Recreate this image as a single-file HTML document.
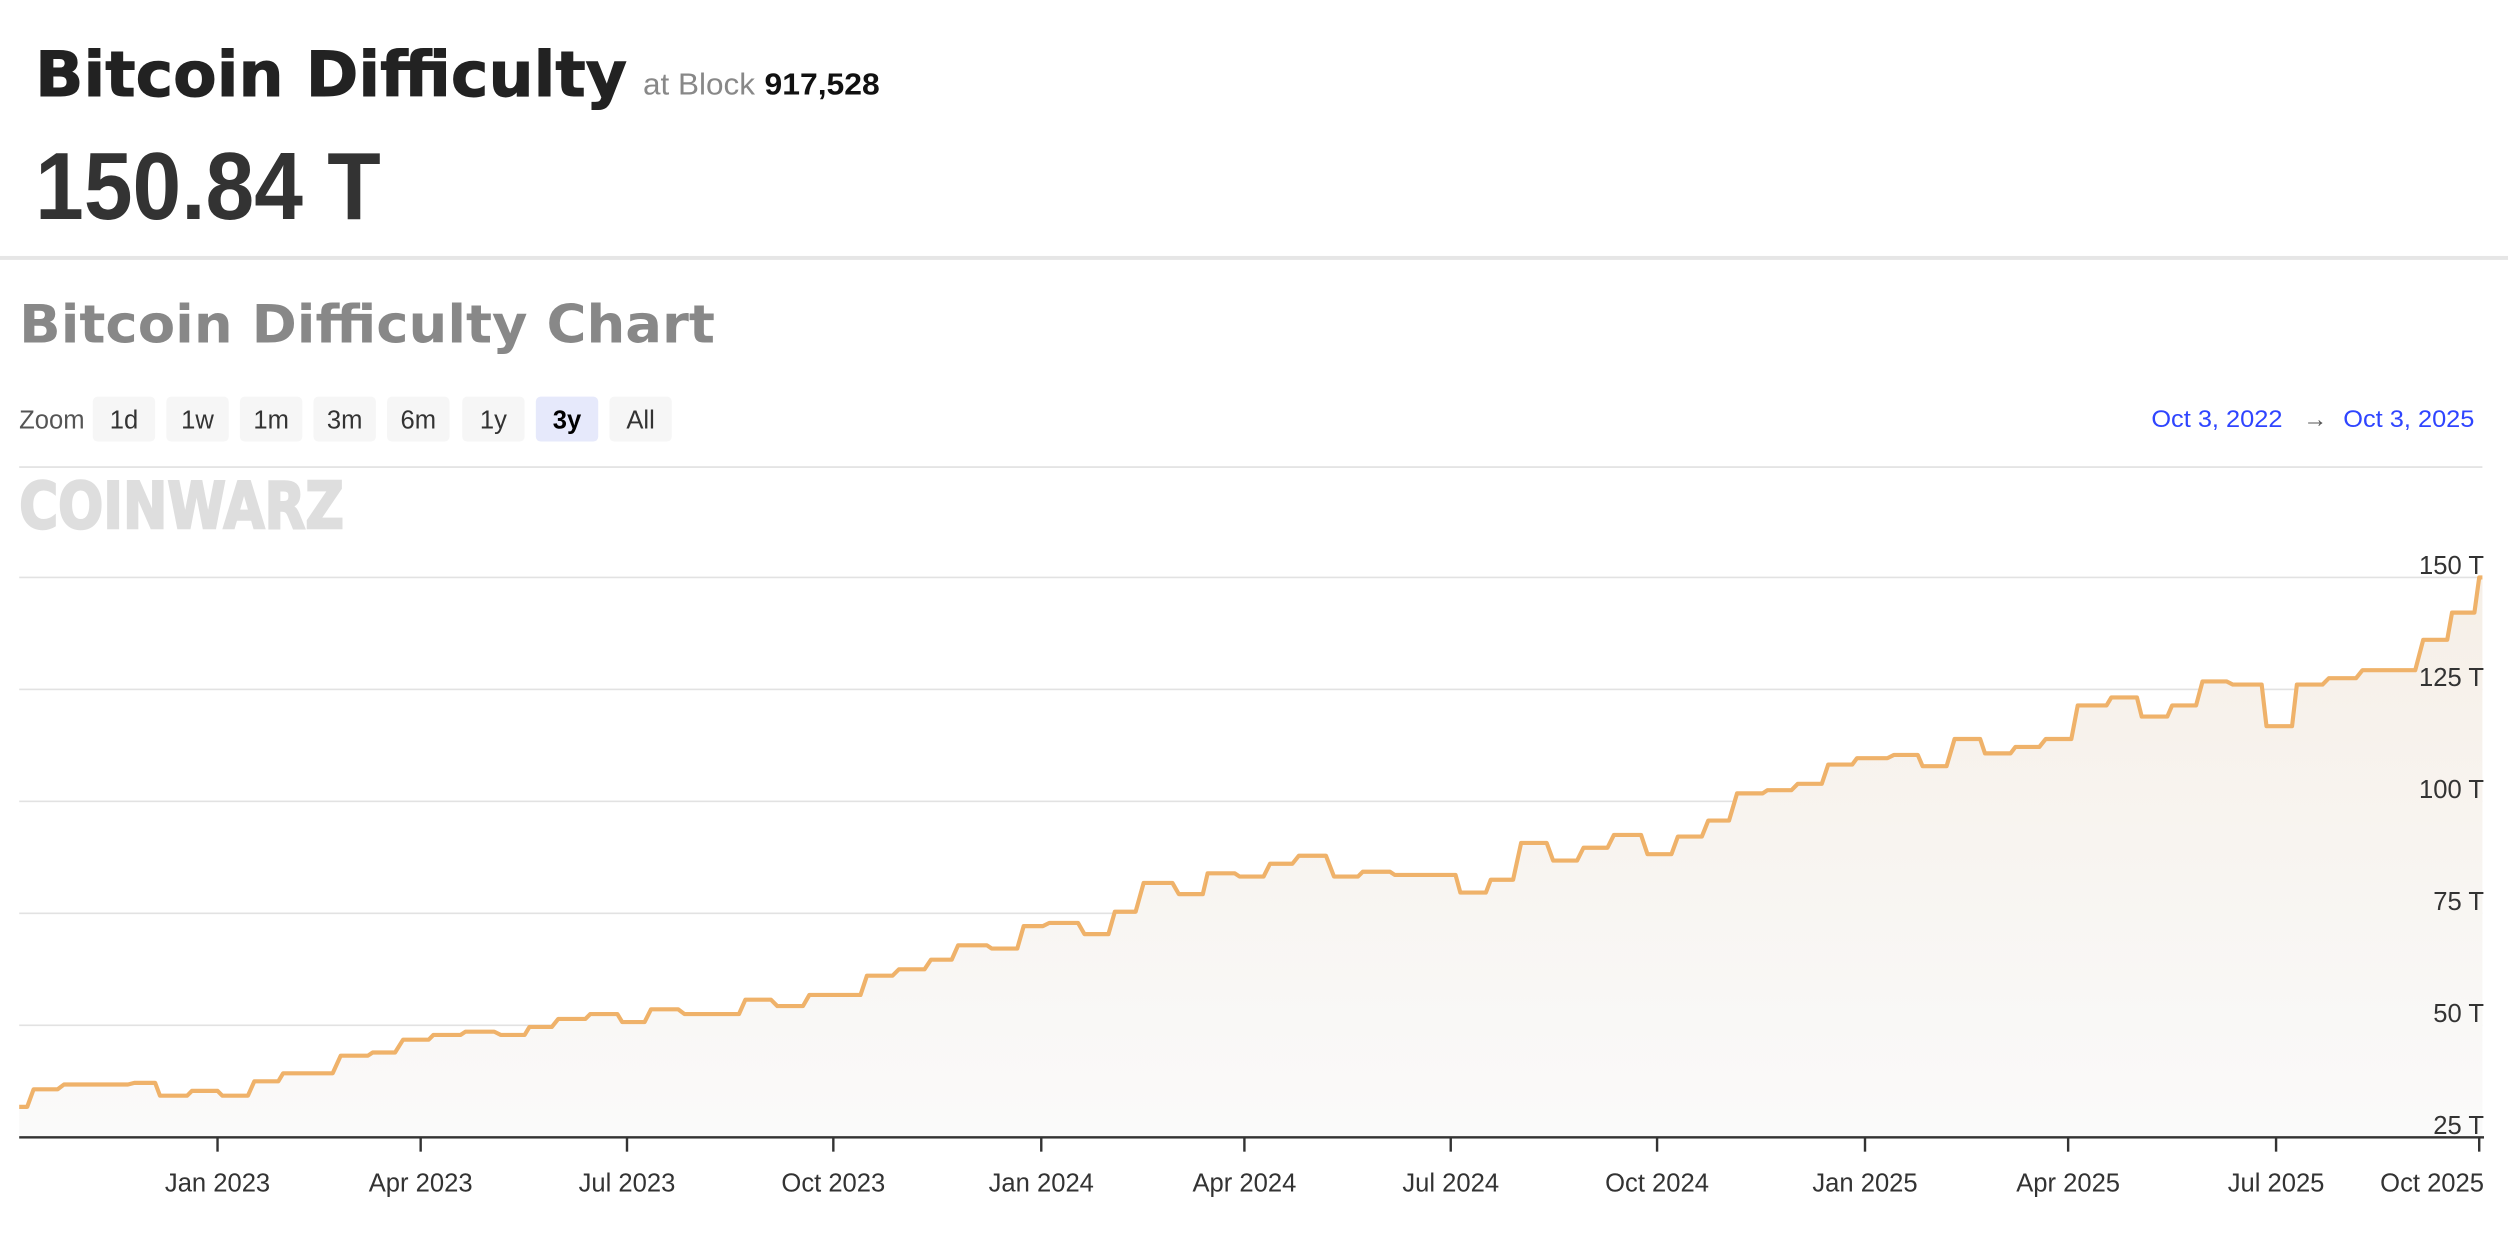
<!DOCTYPE html>
<html><head><meta charset="utf-8"><style>html,body{margin:0;padding:0;background:#fff;overflow:hidden}svg{display:block}</style></head>
<body>
<svg width="2508" height="1239" viewBox="0 0 1568 774.6" preserveAspectRatio="none" xmlns="http://www.w3.org/2000/svg">
<defs><linearGradient id="g" x1="0" y1="0" x2="0" y2="1"><stop offset="0" stop-color="#f6efe7"/><stop offset="1" stop-color="#fafafa"/></linearGradient></defs>
<rect width="1568" height="775" fill="#fff"/>
<text x="22" y="60" font-family="DejaVu Sans, sans-serif" font-weight="bold" font-size="39" fill="#222" stroke="#222" stroke-width="0.6" textLength="370" lengthAdjust="spacingAndGlyphs">Bitcoin Difficulty</text>
<text x="402" y="59" font-family="Liberation Sans, sans-serif" font-size="19" fill="#888" textLength="70" lengthAdjust="spacingAndGlyphs">at Block</text>
<text x="478" y="59" font-family="Liberation Sans, sans-serif" font-weight="bold" font-size="19" fill="#111" textLength="72" lengthAdjust="spacingAndGlyphs">917,528</text>
<text x="22" y="137" font-family="Liberation Sans, sans-serif" font-weight="bold" font-size="60" fill="#333" textLength="216" lengthAdjust="spacingAndGlyphs">150.84 T</text>
<rect x="0" y="160" width="1568" height="2.5" fill="#e6e6e6"/>
<text x="12" y="214" font-family="DejaVu Sans, sans-serif" font-weight="bold" font-size="33" fill="#888" textLength="435" lengthAdjust="spacingAndGlyphs">Bitcoin Difficulty Chart</text>
<text x="12" y="268" font-family="Liberation Sans, sans-serif" font-size="16" fill="#555">Zoom</text>
<g font-family="Liberation Sans, sans-serif" font-size="16" fill="#333" text-anchor="middle">
<rect x="58" y="248" width="39" height="28" rx="3" fill="#f6f6f6"/><text x="77.5" y="268">1d</text>
<rect x="104" y="248" width="39" height="28" rx="3" fill="#f6f6f6"/><text x="123.5" y="268">1w</text>
<rect x="150" y="248" width="39" height="28" rx="3" fill="#f6f6f6"/><text x="169.5" y="268">1m</text>
<rect x="196" y="248" width="39" height="28" rx="3" fill="#f6f6f6"/><text x="215.5" y="268">3m</text>
<rect x="242" y="248" width="39" height="28" rx="3" fill="#f6f6f6"/><text x="261.5" y="268">6m</text>
<rect x="289" y="248" width="39" height="28" rx="3" fill="#f6f6f6"/><text x="308.5" y="268">1y</text>
<rect x="335" y="248" width="39" height="28" rx="3" fill="#e6e9fb"/><text x="354.5" y="268" font-weight="bold" fill="#000">3y</text>
<rect x="381" y="248" width="39" height="28" rx="3" fill="#f6f6f6"/><text x="400.5" y="268">All</text>
</g>
<g font-family="Liberation Sans, sans-serif" font-size="15" fill="#2f45ff">
<text x="1345" y="267" textLength="82" lengthAdjust="spacingAndGlyphs">Oct 3, 2022</text>
<text x="1440" y="267" fill="#555">→</text>
<text x="1465" y="267" textLength="82" lengthAdjust="spacingAndGlyphs">Oct 3, 2025</text>
</g>
<rect x="12" y="291.5" width="1540" height="1" fill="#e0e0e0"/>
<text x="12" y="330" font-family="DejaVu Sans, sans-serif" font-weight="bold" font-size="40" fill="#dedede" stroke="#dedede" stroke-width="1.5" textLength="203" lengthAdjust="spacingAndGlyphs">COINWARZ</text>
<g fill="#e2e2e2"><rect x="12" y="360.5" width="1540" height="1"/><rect x="12" y="430.5" width="1540" height="1"/><rect x="12" y="500.5" width="1540" height="1"/><rect x="12" y="570.5" width="1540" height="1"/><rect x="12" y="640.5" width="1540" height="1"/></g>
<path fill="url(#g)" stroke="none" d="M12,692 L17,692 L21,681 L36,681 L40,678 L80,678 L84,677 L97,677 L100,685 L117,685 L120,682 L136,682 L139,685 L155,685 L159,676 L174,676 L177,671 L208,671 L213,660 L230,660 L233,658 L247,658 L252,650 L268,650 L271,647 L288,647 L291,645 L309,645 L313,647 L328,647 L331,642 L345,642 L349,637 L366,637 L369,634 L386,634 L389,639 L403,639 L407,631 L424,631 L428,634 L462,634 L466,625 L482,625 L486,629 L502,629 L506,622 L538,622 L542,610 L558,610 L562,606 L578,606 L582,600 L595,600 L599,591 L617,591 L620,593 L636,593 L640,579 L652,579 L656,577 L674,577 L678,584 L693,584 L697,570 L710,570 L715,552 L733,552 L737,559 L752,559 L755,546 L772,546 L775,548 L790,548 L794,540 L808,540 L812,535 L829,535 L834,548 L849,548 L852,545 L869,545 L872,547 L910,547 L913,558 L929,558 L932,550 L946,550 L951,527 L967,527 L971,538 L986,538 L990,530 L1005,530 L1009,522 L1026,522 L1030,534 L1045,534 L1049,523 L1064,523 L1068,513 L1081,513 L1086,496 L1102,496 L1105,494 L1120,494 L1124,490 L1139,490 L1143,478 L1158,478 L1161,474 L1180,474 L1184,472 L1199,472 L1202,479 L1217,479 L1222,462 L1238,462 L1241,471 L1257,471 L1260,467 L1275,467 L1279,462 L1295,462 L1299,441 L1317,441 L1320,436 L1336,436 L1339,448 L1355,448 L1358,441 L1373,441 L1377,426 L1392,426 L1396,428 L1414,428 L1417,454 L1433,454 L1436,428 L1452,428 L1456,424 L1473,424 L1477,419 L1510,419 L1515,400 L1530,400 L1533,383 L1547,383 L1550,361 L1552,361 L1552,711 L12,711 Z"/>
<path fill="none" stroke="#efb26a" stroke-width="2.6" stroke-linejoin="round" d="M12,692 L17,692 L21,681 L36,681 L40,678 L80,678 L84,677 L97,677 L100,685 L117,685 L120,682 L136,682 L139,685 L155,685 L159,676 L174,676 L177,671 L208,671 L213,660 L230,660 L233,658 L247,658 L252,650 L268,650 L271,647 L288,647 L291,645 L309,645 L313,647 L328,647 L331,642 L345,642 L349,637 L366,637 L369,634 L386,634 L389,639 L403,639 L407,631 L424,631 L428,634 L462,634 L466,625 L482,625 L486,629 L502,629 L506,622 L538,622 L542,610 L558,610 L562,606 L578,606 L582,600 L595,600 L599,591 L617,591 L620,593 L636,593 L640,579 L652,579 L656,577 L674,577 L678,584 L693,584 L697,570 L710,570 L715,552 L733,552 L737,559 L752,559 L755,546 L772,546 L775,548 L790,548 L794,540 L808,540 L812,535 L829,535 L834,548 L849,548 L852,545 L869,545 L872,547 L910,547 L913,558 L929,558 L932,550 L946,550 L951,527 L967,527 L971,538 L986,538 L990,530 L1005,530 L1009,522 L1026,522 L1030,534 L1045,534 L1049,523 L1064,523 L1068,513 L1081,513 L1086,496 L1102,496 L1105,494 L1120,494 L1124,490 L1139,490 L1143,478 L1158,478 L1161,474 L1180,474 L1184,472 L1199,472 L1202,479 L1217,479 L1222,462 L1238,462 L1241,471 L1257,471 L1260,467 L1275,467 L1279,462 L1295,462 L1299,441 L1317,441 L1320,436 L1336,436 L1339,448 L1355,448 L1358,441 L1373,441 L1377,426 L1392,426 L1396,428 L1414,428 L1417,454 L1433,454 L1436,428 L1452,428 L1456,424 L1473,424 L1477,419 L1510,419 L1515,400 L1530,400 L1533,383 L1547,383 L1550,361 L1552,361"/>
<g font-family="Liberation Sans, sans-serif" font-size="16" fill="#333" text-anchor="end">
<text x="1553" y="359">150 T</text><text x="1553" y="429">125 T</text><text x="1553" y="499">100 T</text><text x="1553" y="569">75 T</text><text x="1553" y="639">50 T</text><text x="1553" y="709">25 T</text>
</g>
<rect x="12" y="710.3" width="1541" height="1.5" fill="#333"/>
<g stroke="#333" stroke-width="1.5">
<line x1="136" y1="711" x2="136" y2="720"/><line x1="263" y1="711" x2="263" y2="720"/><line x1="392" y1="711" x2="392" y2="720"/><line x1="521" y1="711" x2="521" y2="720"/><line x1="651" y1="711" x2="651" y2="720"/><line x1="778" y1="711" x2="778" y2="720"/><line x1="907" y1="711" x2="907" y2="720"/><line x1="1036" y1="711" x2="1036" y2="720"/><line x1="1166" y1="711" x2="1166" y2="720"/><line x1="1293" y1="711" x2="1293" y2="720"/><line x1="1423" y1="711" x2="1423" y2="720"/><line x1="1550" y1="711" x2="1550" y2="720"/>
</g>
<g font-family="Liberation Sans, sans-serif" font-size="16" fill="#333" text-anchor="middle">
<text x="136" y="745">Jan 2023</text><text x="263" y="745">Apr 2023</text><text x="392" y="745">Jul 2023</text><text x="521" y="745">Oct 2023</text><text x="651" y="745">Jan 2024</text><text x="778" y="745">Apr 2024</text><text x="907" y="745">Jul 2024</text><text x="1036" y="745">Oct 2024</text><text x="1166" y="745">Jan 2025</text><text x="1293" y="745">Apr 2025</text><text x="1423" y="745">Jul 2025</text><text x="1553" y="745" text-anchor="end">Oct 2025</text>
</g>
</svg>
</body></html>
